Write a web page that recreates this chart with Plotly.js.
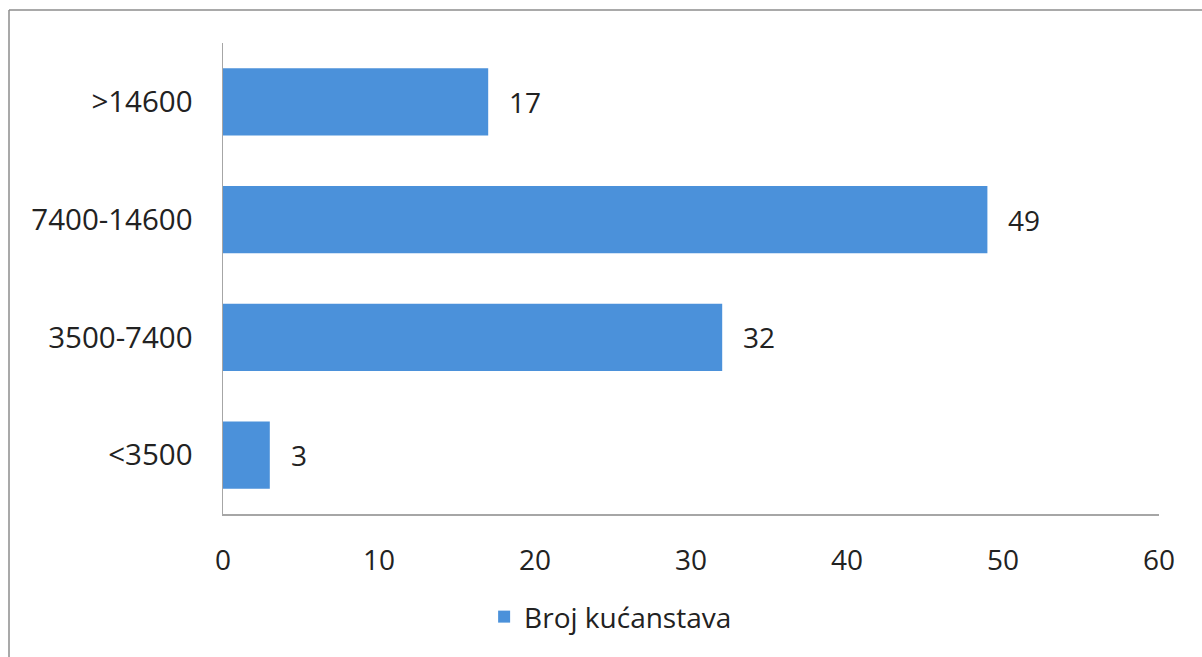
<!DOCTYPE html>
<html>
<head>
<meta charset="utf-8">
<script src="https://cdn.plot.ly/plotly-3.0.1.min.js"></script>
<style>
html,body{margin:0;padding:0;background:#fff;}
#chart{width:1202px;height:657px;}
</style>
</head>
<body>
<div id="chart"></div>
<script>
const categories = ["<3500", "3500-7400", "7400-14600", ">14600"];
const values = [3, 32, 49, 17];
const seriesName = "Broj kućanstava";
const xTicks = [0, 10, 20, 30, 40, 50, 60];

const W = 1202, H = 657;
const L = 223, R = 43, T = 43, B = 143;
const pw = W - L - R, ph = H - T - B;
function px(x){ return (x - L) / pw; }
function py(y){ return (H - B - y) / ph; }

const font = {family: "Open Sans, Noto Sans, sans-serif", size: 28, color: "#222222"};
const yfont = {family: "Open Sans, Noto Sans, sans-serif", size: 29.5, color: "#222222"};

const trace = {
  type: "bar",
  orientation: "h",
  name: seriesName,
  x: values,
  y: categories,
  marker: {color: "#4b91da", line: {width: 0}},
  hoverinfo: "none",
  showlegend: true
};

const annotations = values.map((v, i) => ({
  x: v, y: categories[i], xref: "x", yref: "y",
  text: String(v), showarrow: false, xanchor: "left", yanchor: "middle",
  xshift: 19, font: font
}));

const layout = {
  width: W, height: H,
  margin: {l: L, r: R, t: T, b: B, pad: 0},
  paper_bgcolor: "#ffffff",
  plot_bgcolor: "#ffffff",
  font: font,
  bargap: 0.43,
  showlegend: true,
  legend: {
    orientation: "h",
    xref: "container", yref: "container",
    x: 0.508, xanchor: "center",
    y: 0.061, yanchor: "middle",
    font: font,
    itemwidth: 30
  },
  xaxis: {
    range: [0, 60],
    tickvals: xTicks,
    ticktext: xTicks.map(String),
    showgrid: false,
    zeroline: false,
    showline: true,
    linecolor: "#a6a6a6",
    linewidth: 1.5,
    ticks: "",
    ticklabelstandoff: 21,
    tickfont: font,
    fixedrange: true
  },
  yaxis: {
    type: "category",
    categoryorder: "array",
    categoryarray: categories,
    range: [-0.5, 3.5],
    showgrid: false,
    zeroline: false,
    showline: true,
    linecolor: "#a6a6a6",
    linewidth: 1.5,
    ticks: "",
    ticklabelstandoff: 23,
    tickfont: yfont,
    fixedrange: true
  },
  annotations: annotations,
  shapes: [
    {type: "line", xref: "paper", yref: "paper", x0: px(9), x1: px(1210), y0: py(10), y1: py(10),
     line: {color: "#8c8c8c", width: 1.5}},
    {type: "line", xref: "paper", yref: "paper", x0: px(9), x1: px(9), y0: py(10), y1: py(670),
     line: {color: "#8c8c8c", width: 1.5}}
  ]
};

Plotly.newPlot("chart", [trace], layout, {staticPlot: true, displayModeBar: false});
</script>
</body>
</html>
